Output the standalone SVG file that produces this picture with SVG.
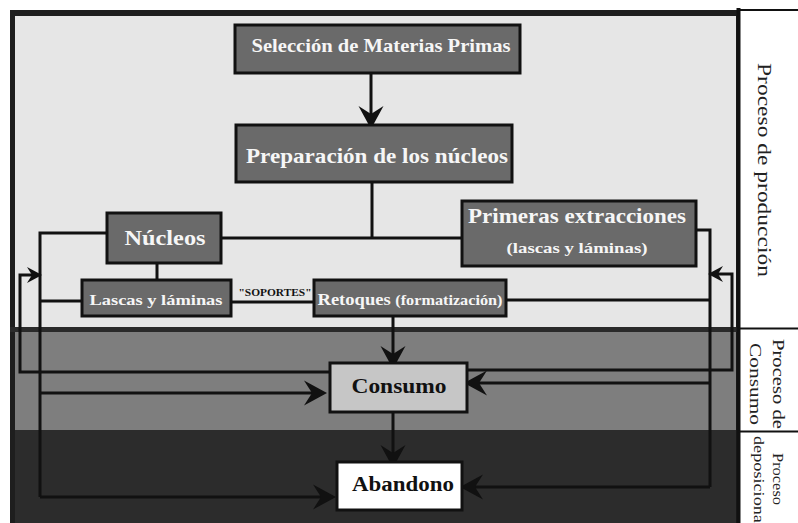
<svg xmlns="http://www.w3.org/2000/svg" width="798" height="523" viewBox="0 0 798 523">
<style>
.box{fill:#6a6a6a;stroke:#111;stroke-width:3}
.wt{fill:#f6f6f6;font-family:"Liberation Serif",serif;font-weight:bold;text-anchor:middle}
.bt{fill:#111;font-family:"Liberation Serif",serif;font-weight:bold;text-anchor:middle}
.lbl{fill:#222;font-family:"Liberation Serif",serif;text-anchor:middle}
.ln{fill:none;stroke:#111;stroke-width:3}
.big{marker-end:url(#ah)}
.sm{marker-end:url(#as)}
</style>
<defs>
<marker id="ah" markerUnits="userSpaceOnUse" markerWidth="26" markerHeight="28" viewBox="-24 -14 26 28" refX="-6" refY="0" orient="auto">
<path d="M0,0 L-23,-12.5 L-15,0 L-23,12.5 Z" fill="#111"/>
</marker>
<marker id="as" markerUnits="userSpaceOnUse" markerWidth="18" markerHeight="20" viewBox="-16 -10 18 20" refX="-4" refY="0" orient="auto">
<path d="M0,0 L-15,-8 L-10,0 L-15,8 Z" fill="#111"/>
</marker>
</defs>
<rect width="798" height="523" fill="#ffffff"/>
<g id="bands">
<rect x="10" y="10" width="730" height="513" fill="#1e1e1e"/>
<rect x="15" y="16" width="721" height="312" fill="#e6e6e6"/>
<rect x="15" y="332" width="721" height="98" fill="#7e7e7e"/>
<rect x="15" y="430" width="721" height="93" fill="#2c2c2c"/>
<rect x="10" y="327" width="727" height="5" fill="#2a2a2a"/>
</g>
<g id="labels">
<rect x="740" y="10" width="58" height="513" fill="#ffffff"/>
<line x1="738" y1="10" x2="798" y2="10" stroke="#111" stroke-width="2"/>
<line x1="738.5" y1="8" x2="738.5" y2="523" stroke="#111" stroke-width="4"/>
<line x1="738" y1="328.5" x2="798" y2="328.5" stroke="#111" stroke-width="2"/>
<line x1="738" y1="431.5" x2="798" y2="431.5" stroke="#111" stroke-width="2"/>
<text class="lbl" font-size="19" transform="translate(758,170) rotate(90)" textLength="214" lengthAdjust="spacingAndGlyphs">Proceso de producción</text>
<text class="lbl" font-size="16" transform="translate(773,384) rotate(90)" textLength="90" lengthAdjust="spacingAndGlyphs">Proceso de</text>
<text class="lbl" font-size="16" transform="translate(750,384) rotate(90)" textLength="82" lengthAdjust="spacingAndGlyphs">Consumo</text>
<text class="lbl" font-size="15" transform="translate(773,479) rotate(90)" textLength="52" lengthAdjust="spacingAndGlyphs">Proceso</text>
<text class="lbl" font-size="15" transform="translate(754,436) rotate(90)" style="text-anchor:start" textLength="92" lengthAdjust="spacingAndGlyphs">deposicional</text>
</g>
<g id="connectors">
<line class="ln big" x1="371" y1="73" x2="371" y2="123"/>
<polyline class="ln" points="372,182 372,238"/>
<line class="ln" x1="221" y1="238" x2="462" y2="238"/>
<line class="ln" x1="157" y1="263" x2="157" y2="280"/>
<line class="ln" x1="231" y1="302" x2="314" y2="302"/>
<line class="ln big" x1="393" y1="316" x2="393" y2="363"/>
<line class="ln big" x1="393" y1="412" x2="393" y2="462"/>
<polyline class="ln" points="107,233 40,233 40,497"/>
<line class="ln" x1="40" y1="301" x2="82" y2="301"/>
<line class="ln big" x1="40" y1="393" x2="321" y2="393"/>
<line class="ln big" x1="40" y1="497" x2="330" y2="497"/>
<polyline class="ln sm" points="330,372 20,372 20,275 38,275"/>
<polyline class="ln" points="696,230 710,230 710,487"/>
<line class="ln" x1="506" y1="300" x2="710" y2="300"/>
<line class="ln big" x1="710" y1="383" x2="470" y2="383"/>
<line class="ln big" x1="710" y1="487" x2="466" y2="487"/>
<polyline class="ln sm" points="467,370 732,370 732,274 712,274"/>
</g>
<g id="seleccion">
<rect class="box" x="235" y="25" width="285" height="48"/>
<text class="wt" x="381" y="52" font-size="19" textLength="259" lengthAdjust="spacingAndGlyphs">Selección de Materias Primas</text>
</g>
<g id="preparacion">
<rect class="box" x="236" y="125" width="276" height="57"/>
<text class="wt" x="377" y="163" font-size="22" textLength="262" lengthAdjust="spacingAndGlyphs">Preparación de los núcleos</text>
</g>
<g id="nucleos">
<rect class="box" x="107" y="213" width="114" height="50"/>
<text class="wt" x="165" y="245" font-size="22" textLength="81" lengthAdjust="spacingAndGlyphs">Núcleos</text>
</g>
<g id="primeras">
<rect class="box" x="462" y="201" width="234" height="65"/>
<text class="wt" x="577" y="223" font-size="22" textLength="218" lengthAdjust="spacingAndGlyphs">Primeras extracciones</text>
<text class="wt" x="577" y="253" font-size="15" textLength="141" lengthAdjust="spacingAndGlyphs">(lascas y láminas)</text>
</g>
<g id="lascas">
<rect class="box" x="82" y="280" width="149" height="36"/>
<text class="wt" x="156" y="305" font-size="15" textLength="133" lengthAdjust="spacingAndGlyphs">Lascas y láminas</text>
</g>
<g id="soportes">
<text class="bt" x="275" y="296" font-size="9.5" textLength="73" lengthAdjust="spacingAndGlyphs">"SOPORTES"</text>
</g>
<g id="retoques">
<rect class="box" x="314" y="280" width="192" height="36"/>
<text class="wt" x="410" y="305" textLength="185" lengthAdjust="spacingAndGlyphs"><tspan font-size="16">Retoques </tspan><tspan font-size="14">(formatización)</tspan></text>
</g>
<g id="consumo">
<rect x="330" y="363" width="137" height="49" fill="#c6c6c6" stroke="#111" stroke-width="3"/>
<text class="bt" x="399" y="393" font-size="21" textLength="95" lengthAdjust="spacingAndGlyphs">Consumo</text>
</g>
<g id="abandono">
<rect x="337" y="462" width="125" height="48" fill="#ffffff" stroke="#111" stroke-width="3"/>
<text class="bt" x="403" y="491" font-size="20" textLength="102" lengthAdjust="spacingAndGlyphs">Abandono</text>
</g>
</svg>
